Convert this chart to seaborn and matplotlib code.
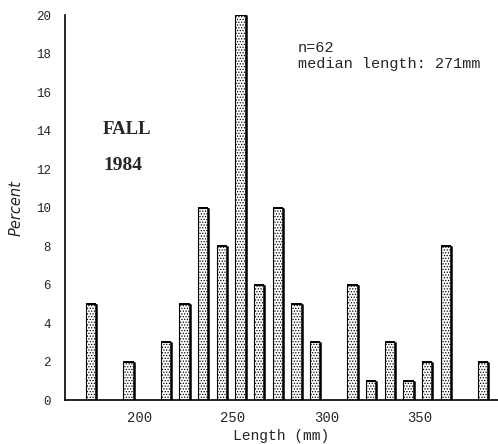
import matplotlib
matplotlib.use('Agg')
import matplotlib.pyplot as plt
import seaborn as sns
import pandas as pd

# lower edge of each 10 mm length class (mm) and percent of fish
bin_start = [170, 190, 210, 220, 230, 240, 250, 260, 270, 280, 290,
             310, 320, 330, 340, 350, 360, 380]
percent = [5, 2, 3, 5, 10, 8, 20, 6, 10, 5, 3,
           6, 1, 3, 1, 2, 8, 2]
x_ticks = [200, 250, 300, 350]
y_ticks = [0, 2, 4, 6, 8, 10, 12, 14, 16, 18, 20]

# bars sit a little left of the class middle in the original
df = pd.DataFrame({"length": [b + 4 for b in bin_start], "percent": percent})

sns.set_style("white")
plt.rcParams['font.family'] = ['Liberation Mono', 'DejaVu Sans']
plt.rcParams['hatch.color'] = '#6a6a6a'
plt.rcParams['hatch.linewidth'] = 0.6

fig = plt.figure(figsize=(4.98, 4.44), dpi=100)
ax = fig.add_axes([0.1305, 0.099, 0.8695, 0.867])

sns.barplot(data=df, x="length", y="percent", native_scale=True, width=0.55,
            color="white", edgecolor="black", linewidth=0.8, hatch="......",
            errorbar=None, ax=ax)

# heavier right edge and top like the original drawing
for p in ax.patches:
    xr = p.get_x() + p.get_width()
    ax.plot([xr, xr], [0, p.get_height()], color="black", lw=1.8,
            solid_capstyle="butt")
    ax.plot([p.get_x(), xr], [p.get_height()] * 2, color="black", lw=1.4,
            solid_capstyle="butt")

ax.set_xlim(160, 392)
ax.set_ylim(0, 20)
ax.set_xticks(x_ticks)
ax.set_yticks(y_ticks)
ax.tick_params(axis='x', length=0, pad=8, labelsize=10)
ax.tick_params(axis='y', direction='inout', length=6, width=1, pad=7,
               labelsize=9)
for s in ["top", "right"]:
    ax.spines[s].set_visible(False)
for s in ["left", "bottom"]:
    ax.spines[s].set_color("black")
    ax.spines[s].set_linewidth(1.2)

ax.set_xlabel("Length (mm)", fontsize=10.5, labelpad=3)
ax.set_ylabel("Percent", fontsize=10.5, labelpad=9, family='DejaVu Sans',
              style='italic')

ax.text(0.088, 0.704, "FALL", transform=ax.transAxes, fontsize=13.5,
        family='Liberation Serif', fontweight='bold', va='center')
ax.text(0.088, 0.608, "1984", transform=ax.transAxes, fontsize=14,
        family='Liberation Serif', fontweight='bold', va='center')
ax.text(0.537, 0.894, "n=62\nmedian length: 271mm", transform=ax.transAxes,
        fontsize=11, va='center', linespacing=1.2)

fig.savefig("out.png", dpi=100)
